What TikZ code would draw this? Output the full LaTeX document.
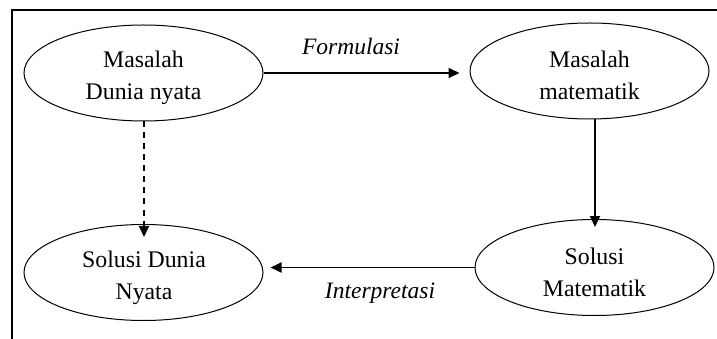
\documentclass[tikz,border=0pt]{standalone}
\usepackage{fontspec}
\setmainfont{Liberation Serif}
\usetikzlibrary{shapes.geometric,arrows.meta}
\begin{document}
\begin{tikzpicture}[x=1pt,y=-1pt,
 oval/.style={draw,ellipse,line width=1pt,minimum width=239pt,minimum height=96pt,inner sep=0pt},
 txt/.style={align=center,font=\fontsize{23.8}{31.7}\selectfont,inner sep=0pt},
 lab/.style={font=\fontsize{23.5}{28}\selectfont\itshape,inner sep=0pt,anchor=base},
 arr/.style={line width=1.8pt,-{Triangle[length=11pt,width=10pt]}}]
\useasboundingbox (0,0) rectangle (717,339);
\draw[line width=2pt] (12,339) -- (12,10) -- (717,10);
\node[oval] (e1) at (143.5,73) {};
\node[oval] (e2) at (589.5,71) {};
\node[oval] (e3) at (143.5,272.5) {};
\node[oval] (e4) at (594.5,267.5) {};
\node[txt] (t1) at (143.5,78) {Masalah\\Dunia nyata};
\node[txt] (t2) at (589.5,75.5) {Masalah\\matematik};
\node[txt] (t3) at (144,277.5) {Solusi Dunia\\Nyata};
\node[txt] (t4) at (594.5,272.5) {Solusi\\Matematik};
\draw[arr] (e1.east) -- ([xshift=-10pt]e1.east -| e2.west);
\draw[arr] ([xshift=0.5pt]e4.north |- e2.south) -- ([xshift=0.5pt,yshift=-8pt]e4.north);
\draw[arr,dash pattern=on 6pt off 5pt] ([xshift=0.5pt]e1.south) -- ([xshift=0.5pt,yshift=-13pt]e3.north);
\draw[arr] (e4.west) -- ([xshift=7pt]e4.west -| e3.east);
\node[lab] (f) at (351,55) {Formulasi};
\node[lab] (i) at (380,298) {Interpretasi};
\end{tikzpicture}
\end{document}
